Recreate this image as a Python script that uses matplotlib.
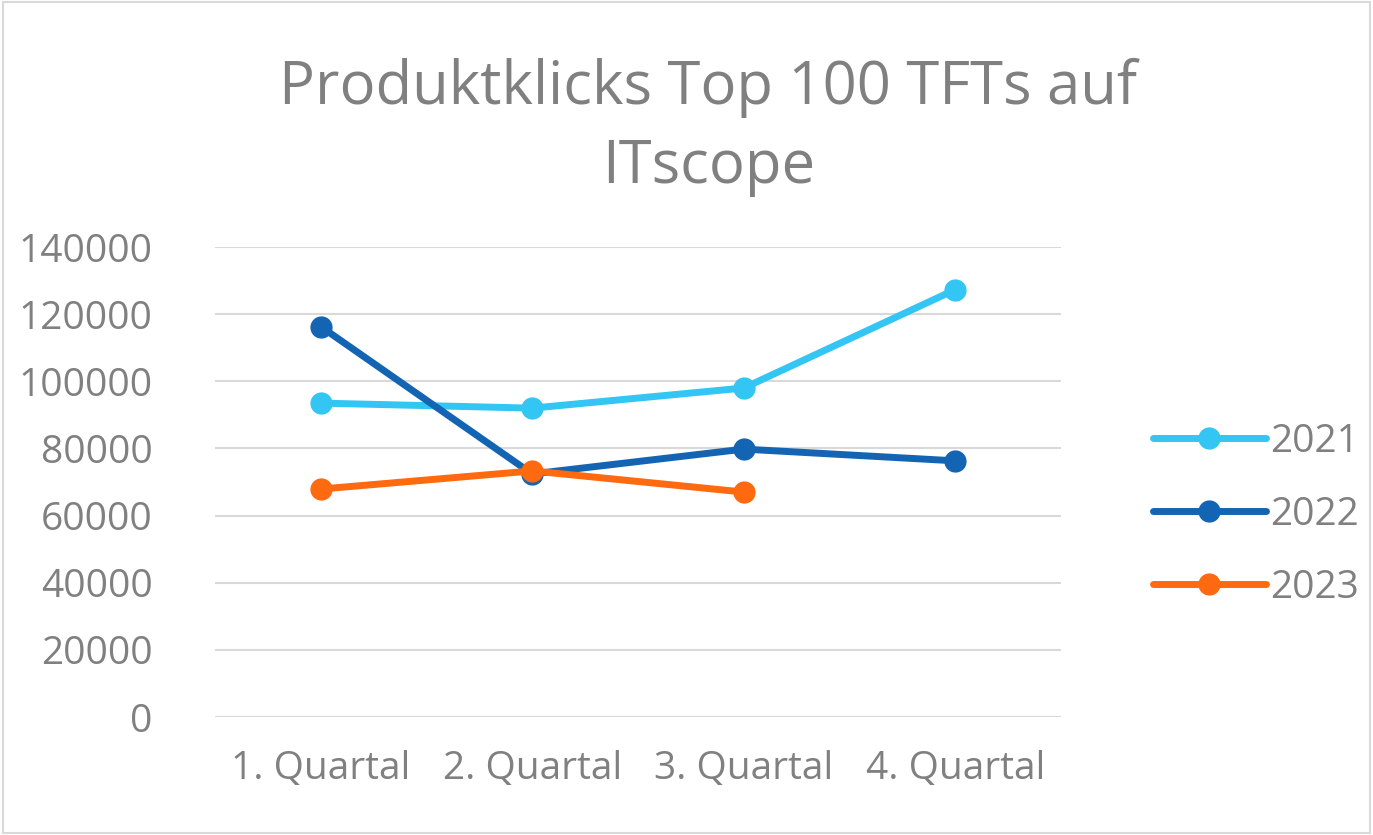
import matplotlib
matplotlib.use("Agg")
import matplotlib.pyplot as plt
from matplotlib.patches import Rectangle

plt.rcParams['font.family'] = ['Open Sans', 'DejaVu Sans']

categories = ["1. Quartal", "2. Quartal", "3. Quartal", "4. Quartal"]
s2021 = [93500, 92000, 98000, 127300]
s2022 = [116300, 72400, 79800, 76300]
s2023 = [67900, 73300, 67000]
series = [("2021", s2021, "#33C5F3"), ("2022", s2022, "#1464B4"), ("2023", s2023, "#FF690F")]

fig = plt.figure(figsize=(13.73, 8.35), dpi=100)
fig.patches.append(Rectangle((0.002, 0.002), 0.996, 0.996, transform=fig.transFigure,
                             fill=False, edgecolor="#D9D9D9", lw=1.5))
ax = fig.add_axes([215/1373, 1-717/835, (1061-215)/1373, (717-247)/835])
for name, vals, c in series:
    ax.plot(range(len(vals)), vals, color=c, lw=5, marker="o", ms=15, label=name,
            solid_capstyle="round")
ax.set_xlim(-0.5, 3.5)
ax.set_ylim(0, 140000)
ax.set_yticks(range(0, 140001, 20000))
ax.set_xticks(range(4))
ax.set_xticklabels(categories)
ax.grid(axis="y", color="#D9D9D9", lw=1.5)
ax.set_axisbelow(True)
for s in ax.spines.values():
    s.set_visible(False)
ax.tick_params(length=0, labelsize=28, labelcolor="#808080")
ax.tick_params(axis="y", pad=45)
ax.tick_params(axis="x", pad=24)
for t in ax.get_yticklabels():
    t.set_horizontalalignment("right")
fig.text(0.516, 0.895, "Produktklicks Top 100 TFTs auf", ha="center", va="center",
         fontsize=43, color="#808080")
fig.text(0.516, 0.80, "ITscope", ha="center", va="center", fontsize=43, color="#808080")
leg = fig.legend(loc="center left", bbox_to_anchor=(1118/1373, 1-515/835), frameon=False,
                 fontsize=28, labelcolor="#808080", handlelength=2.9, labelspacing=0.9,
                 handletextpad=0.1)
fig.savefig("out.png", dpi=100)
